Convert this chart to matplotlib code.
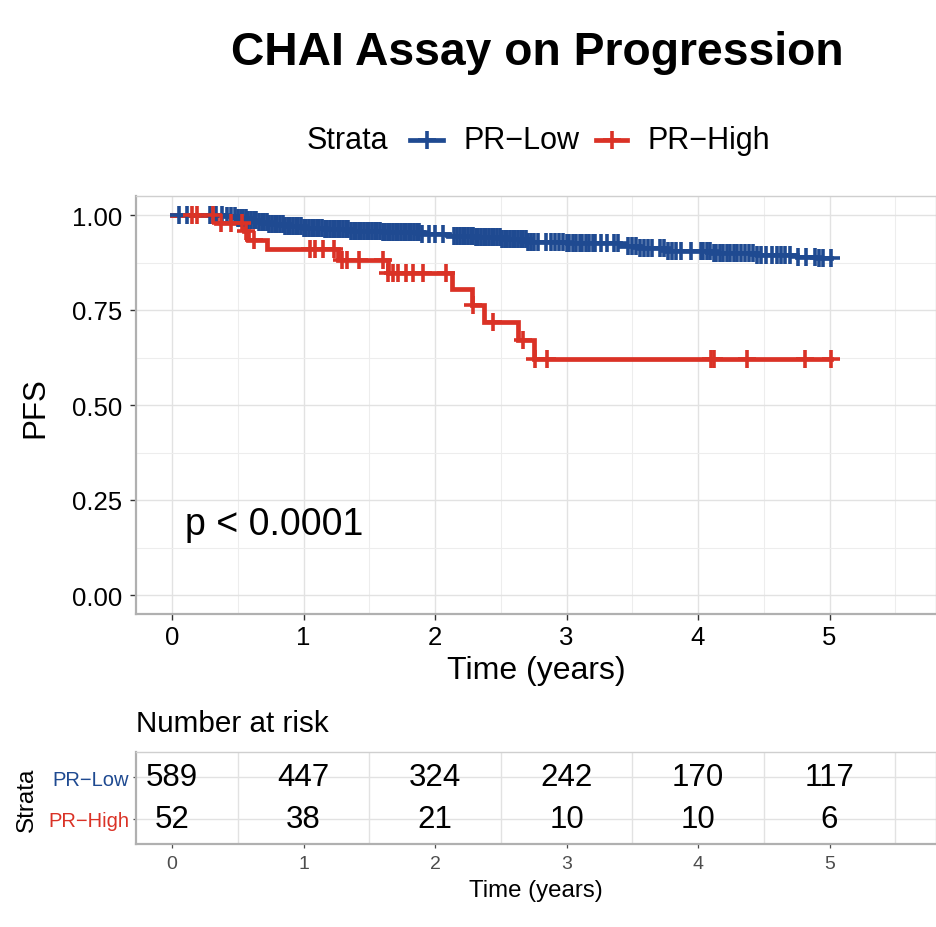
import numpy as np
import matplotlib
matplotlib.use("Agg")
import matplotlib.pyplot as plt
from matplotlib.lines import Line2D

plt.rcParams['font.family'] = ['Liberation Sans', 'DejaVu Sans']

# ---------------- data ----------------
groups = ["PR\u2212Low", "PR\u2212High"]
colors = ["#1F4A91", "#DA3226"]

# Kaplan-Meier step points (time in years, survival after the step)
low_times = [0.0, 0.40, 0.50, 0.58, 0.66, 0.74, 0.85, 1.00, 1.15, 1.35, 1.60, 1.90,
             2.10, 2.30, 2.50, 2.70, 3.00, 3.40, 3.55, 3.75, 4.10, 4.45, 4.75, 4.90]
low_surv = [1.000, 0.997, 0.993, 0.988, 0.982, 0.977, 0.972, 0.967, 0.962, 0.958, 0.955, 0.951,
            0.946, 0.941, 0.936, 0.930, 0.926, 0.918, 0.912, 0.905, 0.900, 0.896, 0.890, 0.886]
low_end = 5.01

high_times = [0.0, 0.33, 0.55, 0.58, 0.72, 1.26, 1.64, 2.13, 2.28, 2.37, 2.63, 2.75]
high_surv = [1.000, 0.980, 0.958, 0.934, 0.910, 0.882, 0.848, 0.806, 0.764, 0.719, 0.672, 0.622]
high_end = 5.01

# censoring times
low_censor = [0.05, 0.11, 0.29, 0.33, 0.38, 0.42, 0.45, 0.48, 0.50, 0.52, 0.54, 0.56, 0.58,
              0.60, 0.62, 0.64, 0.66, 0.68, 0.70, 0.72, 0.74, 0.76, 0.78, 0.80, 0.82, 0.84,
              0.86, 0.88, 0.90, 0.92, 0.94, 0.96, 0.98, 1.00, 1.02, 1.04, 1.06, 1.08, 1.10,
              1.12, 1.14, 1.16, 1.18, 1.20, 1.22, 1.24, 1.26, 1.28, 1.30, 1.32, 1.34, 1.36,
              1.38, 1.40, 1.42, 1.44, 1.46, 1.48, 1.50, 1.52, 1.54, 1.56, 1.58, 1.60, 1.62,
              1.64, 1.66, 1.68, 1.70, 1.72, 1.74, 1.76, 1.78, 1.80, 1.82, 1.84, 1.86, 1.88,
              1.90, 1.95, 2.00, 2.06, 2.14, 2.17, 2.19, 2.21, 2.23, 2.25, 2.27, 2.29, 2.31,
              2.33, 2.35, 2.37, 2.39, 2.41, 2.43, 2.45, 2.47, 2.49, 2.51, 2.53, 2.55, 2.57,
              2.59, 2.61, 2.63, 2.65, 2.67, 2.69, 2.71, 2.73, 2.75, 2.78,
              2.84, 2.88, 2.91, 2.94, 2.97, 3.00, 3.02, 3.05, 3.07, 3.10, 3.12, 3.15, 3.17,
              3.20, 3.22, 3.26, 3.31, 3.36, 3.39, 3.47, 3.50, 3.53, 3.56, 3.59, 3.62, 3.65,
              3.71, 3.74, 3.77, 3.80, 3.83, 3.87, 3.95, 4.02, 4.04, 4.07, 4.09, 4.12, 4.14,
              4.17, 4.19, 4.22, 4.24, 4.27, 4.30, 4.33, 4.36, 4.39, 4.42, 4.45, 4.48, 4.52,
              4.56, 4.60, 4.63, 4.66, 4.70, 4.76, 4.82, 4.89, 4.92, 4.95, 5.01]
high_censor = [0.15, 0.19, 0.31, 0.37, 0.45, 0.53, 0.56, 0.62, 1.05, 1.09, 1.15, 1.23,
               1.29, 1.33, 1.42, 1.60, 1.64, 1.68, 1.72, 1.78, 1.83, 1.91, 2.08, 2.29,
               2.44, 2.67, 2.76, 2.85, 4.10, 4.12, 4.37, 4.81, 5.01]

# number at risk
risk_times = [0, 1, 2, 3, 4, 5]
risk_low = [589, 447, 324, 242, 170, 117]
risk_high = [52, 38, 21, 10, 10, 6]

x_ticks = [0, 1, 2, 3, 4, 5]
y_ticks = [0.00, 0.25, 0.50, 0.75, 1.00]
y_ticklabels = ["0.00", "0.25", "0.50", "0.75", "1.00"]

# ---------------- figure ----------------
W, H = 936, 928
fig = plt.figure(figsize=(W / 100, H / 100), dpi=100)


def fx(px):
    return px / W


def fy(py):
    return 1 - py / H


GRID_MAJ = "#E2E2E2"
GRID_MIN = "#EDEDED"


def style_spines(a):
    for s in ["left", "bottom"]:
        a.spines[s].set_color("#B0B0B0")
        a.spines[s].set_linewidth(1.6)
    for s in ["top", "right"]:
        a.spines[s].set_color("#CFCFCF")
        a.spines[s].set_linewidth(1.0)


# main KM axes
ax = fig.add_axes([fx(136), fy(615), fx(800), (615 - 197) / H])
ax.set_xlim(-0.275, 5.81)
ax.set_ylim(-0.05, 1.05)
ax.set_xticks(x_ticks)
ax.set_xticklabels([str(t) for t in x_ticks])
ax.set_xticks([0.5, 1.5, 2.5, 3.5, 4.5, 5.5], minor=True)
ax.set_yticks(y_ticks)
ax.set_yticklabels(y_ticklabels)
ax.set_yticks([0.125, 0.375, 0.625, 0.875], minor=True)
ax.grid(which="major", color=GRID_MAJ, lw=1.0)
ax.grid(which="minor", color=GRID_MIN, lw=0.8)
ax.set_axisbelow(True)
ax.tick_params(which="minor", length=0)
ax.tick_params(which="major", length=4, width=1.0, color="#333333", labelsize=18.5,
               labelcolor="black")
ax.tick_params(axis="x", pad=4)
ax.tick_params(axis="y", pad=6)
style_spines(ax)

series = [
    (low_times, low_surv, low_end, low_censor, colors[0]),
    (high_times, high_surv, high_end, high_censor, colors[1]),
]
for times, surv, end_t, cens, col in series:
    t_ext = list(times) + [end_t]
    s_ext = list(surv) + [surv[-1]]
    ax.step(t_ext, s_ext, where="post", color=col, lw=3.4, solid_joinstyle="miter",
            zorder=3)
    idx = np.searchsorted(np.array(times), np.array(cens), side="right") - 1
    cy = np.array(surv)[idx]
    ax.plot(cens, cy, ls="none", marker="+", ms=13, mew=2.6, color=col, zorder=4)

ax.text(0.1, 0.16, "p < 0.0001", fontsize=27, va="baseline", ha="left")

# titles / labels
fig.text(fx(537), fy(53), "CHAI Assay on Progression", fontsize=33.3, fontweight="bold",
         ha="center", va="center")
fig.text(fx(536), fy(671), "Time (years)", fontsize=23, ha="center", va="center")
fig.text(fx(35), fy(408), "PFS", fontsize=22.5, ha="center", va="center", rotation=90)

# legend (manual)
ly = fy(141)
fig.text(fx(307), ly, "Strata", fontsize=22, ha="left", va="center")
leg_items = [(410, 443, 464, groups[0], colors[0]), (596, 627, 648, groups[1], colors[1])]
for x0, x1, xt, lab, col in leg_items:
    fig.add_artist(Line2D([fx(x0), fx(x1)], [ly, ly], transform=fig.transFigure,
                          color=col, lw=3.4))
    fig.add_artist(Line2D([fx((x0 + x1) / 2)], [ly], transform=fig.transFigure,
                          color=col, ls="none", marker="+", ms=13, mew=2.6))
    fig.text(fx(xt), ly, lab, fontsize=22, ha="left", va="center")

# risk table
ax2 = fig.add_axes([fx(136), fy(845), fx(800), (845 - 753) / H])
ax2.set_xlim(-0.275, 5.81)
ax2.set_ylim(0.4, 2.6)
ax2.set_xticks(x_ticks)
ax2.set_xticklabels([str(t) for t in x_ticks])
ax2.set_xticks([0.5, 1.5, 2.5, 3.5, 4.5, 5.5], minor=True)
ax2.set_yticks([1, 2])
ax2.set_yticklabels([groups[1], groups[0]])
for lbl, col in zip(ax2.get_yticklabels(), [colors[1], colors[0]]):
    lbl.set_color(col)
ax2.grid(which="minor", axis="x", color=GRID_MAJ, lw=1.0)
ax2.grid(which="major", axis="y", color=GRID_MAJ, lw=1.0)
ax2.set_axisbelow(True)
ax2.tick_params(which="minor", length=0)
ax2.tick_params(axis="x", which="major", length=3, width=0.9, color="#4D4D4D",
                labelsize=14, labelcolor="#4D4D4D", pad=5)
ax2.tick_params(axis="y", which="major", length=2, width=0.9, color="#4D4D4D",
                labelsize=14.5, pad=3)
style_spines(ax2)

for t, n_low, n_high in zip(risk_times, risk_low, risk_high):
    ax2.text(t, 2, str(n_low), ha="center", va="center", fontsize=22.5)
    ax2.text(t, 1, str(n_high), ha="center", va="center", fontsize=22.5)

fig.text(fx(136), fy(724), "Number at risk", fontsize=21.3, ha="left", va="center")
fig.text(fx(536), fy(891), "Time (years)", fontsize=17.3, ha="center", va="center")
fig.text(fx(27), fy(800), "Strata", fontsize=17.5, ha="center", va="center", rotation=90)

fig.savefig("out.png", dpi=100)
